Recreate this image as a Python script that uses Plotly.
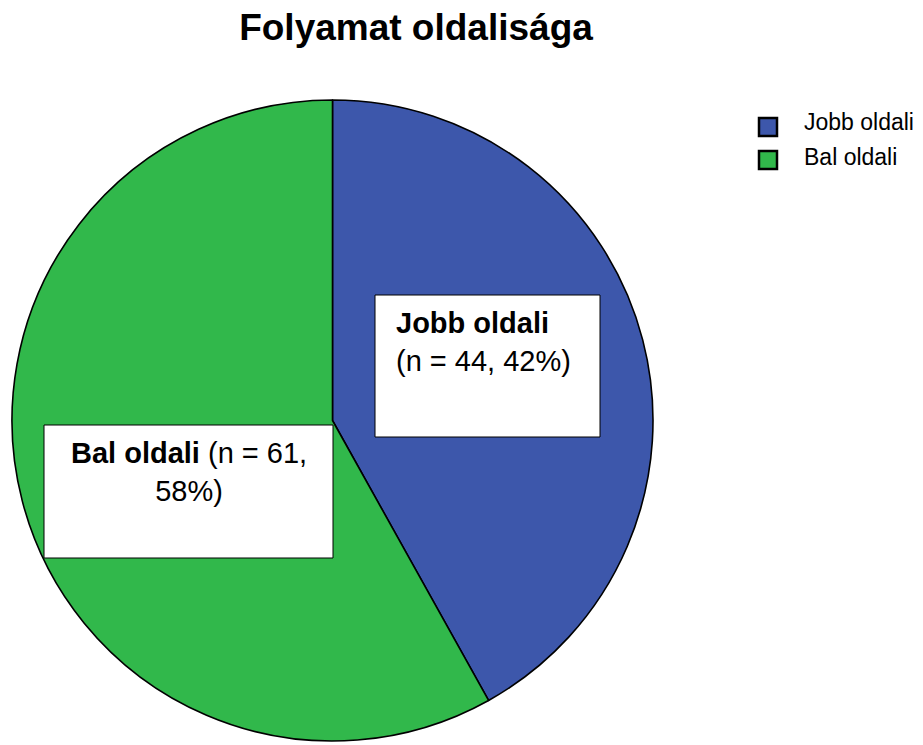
import plotly.graph_objects as go

labels = ["Jobb oldali", "Bal oldali"]
counts = [44, 61]
percents = ["42%", "58%"]
colors = ["#3D57AB", "#31B84B"]
title_text = "Folyamat oldalisága"

W, H = 923, 745
OFF = 8  # page body margin offset

def px(x):
    return (x - OFF) / W

def py(y):
    return 1 - (y - OFF) / H

FONT = "Liberation Sans, Arial, sans-serif"

fig = go.Figure()
fig.add_trace(go.Pie(
    labels=labels,
    values=counts,
    sort=False,
    direction="clockwise",
    rotation=0,
    textinfo="none",
    hoverinfo="label+value+percent",
    showlegend=False,
    marker=dict(colors=colors, line=dict(color="#000000", width=1.6)),
    domain=dict(x=[px(12), px(653)], y=[py(742), py(99)]),
))

# label boxes
fig.add_shape(type="rect", xref="paper", yref="paper",
              x0=px(375), x1=px(600), y0=py(437), y1=py(295),
              fillcolor="white", line=dict(color="#000000", width=1))
fig.add_shape(type="rect", xref="paper", yref="paper",
              x0=px(44), x1=px(333), y0=py(558), y1=py(425),
              fillcolor="white", line=dict(color="#000000", width=1))

fig.add_annotation(xref="paper", yref="paper", x=px(394), y=py(342),
                   xanchor="left", yanchor="middle", align="left", showarrow=False,
                   text=f"<b>{labels[0]}</b><br>(n = {counts[0]}, {percents[0]})",
                   font=dict(family=FONT, size=29, color="black"))
fig.add_annotation(xref="paper", yref="paper", x=px(189), y=py(472),
                   xanchor="center", yanchor="middle", align="center", showarrow=False,
                   text=f"<b>{labels[1]}</b> (n = {counts[1]},<br>{percents[1]})",
                   font=dict(family=FONT, size=29, color="black"))

# legend drawn manually
sq_y = [127, 160]
txt_y = [122, 157]
for lab, col, yc, yt in zip(labels, colors, sq_y, txt_y):
    fig.add_shape(type="rect", xref="paper", yref="paper",
                  x0=px(759), x1=px(777), y0=py(yc + 9), y1=py(yc - 9),
                  fillcolor=col, line=dict(color="#000000", width=2.5))
    fig.add_annotation(xref="paper", yref="paper", x=px(802), y=py(yt),
                       xanchor="left", yanchor="middle", showarrow=False,
                       text=lab, font=dict(family=FONT, size=23, color="black"))

fig.update_layout(
    width=W, height=H,
    margin=dict(l=0, r=0, t=0, b=0),
    paper_bgcolor="white",
    plot_bgcolor="white",
    title=dict(text=f"<b>{title_text}</b>", x=px(416), xanchor="center",
               y=py(27), yanchor="middle",
               font=dict(family=FONT, size=37, color="black")),
    showlegend=False,
)

fig.write_html("out.html")
